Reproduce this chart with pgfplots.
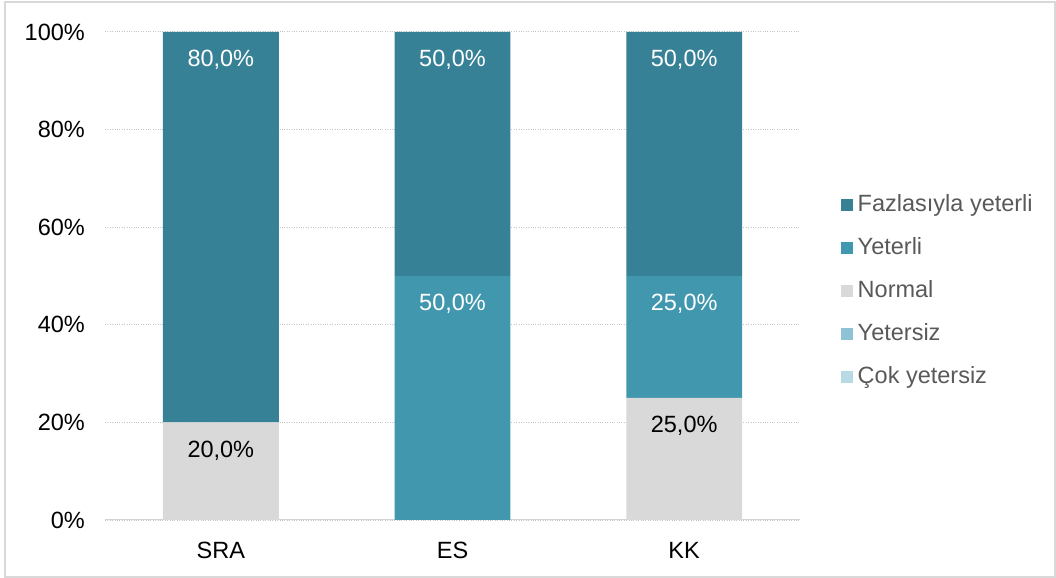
\documentclass[border=0pt]{standalone}
\usepackage{fontspec}
\setmainfont{Liberation Sans}
\usepackage{pgfplots}
\pgfplotsset{compat=1.18}

\definecolor{fazla}{RGB}{55,129,150}
\definecolor{yeterli}{RGB}{65,151,174}
\definecolor{normal}{RGB}{217,217,217}
\definecolor{yetersiz}{RGB}{141,195,212}
\definecolor{cok}{RGB}{185,217,229}
\definecolor{legtext}{RGB}{89,89,89}

\pgfplotsset{
    seg/.style={
        fill=#1, draw=none,
        legend image code/.code={\fill[fill=#1] (0bp,-6bp) rectangle (12bp,6bp);},
    },
}

\begin{document}
\begin{tikzpicture}
    \useasboundingbox (0bp,0bp) rectangle (1056bp,578bp);
    \draw[gray!30, line width=1.5bp] (5bp,1bp) rectangle (1055bp,576bp);
    \begin{axis}[
            at={(105bp,58bp)}, anchor=south west,
            scale only axis,
            width=695bp, height=488bp,
            ybar stacked,
            bar width=0.5,
            xmin=-0.5, xmax=2.5,
            ymin=0, ymax=100,
            xtick={0,1,2},
            xticklabels={SRA, ES, KK},
            ytick={0,20,40,60,80,100},
            yticklabels={0\%, 20\%, 40\%, 60\%, 80\%, 100\%},
            ymajorgrids=true,
            major grid style={gray!45, dotted, line width=1bp},
            axis line style={draw=none},
            tick style={draw=none},
            font=\fontsize{23.5bp}{27bp}\selectfont,
            xticklabel style={anchor=base, inner sep=0pt, yshift=-38bp},
            yticklabel style={anchor=east, inner sep=0pt, xshift=-20bp},
            nodes near coords,
            point meta=explicit symbolic,
            visualization depends on=rawy \as \segval,
            % labels sit just under the top of each segment
            every node near coord/.append style={anchor=center, inner sep=0pt,
                    yshift=\segval*2.44bp-28bp},
            reverse legend,
            legend cell align=left,
            legend style={
                    at={(1.054,0.469)}, anchor=west,
                    draw=none, fill=none,
                    text=legtext,
                    row sep=23bp,
                    column sep=5bp,
                    nodes={inner sep=0pt, text height=16bp, text depth=4bp},
                },
        ]

        \addplot[seg=cok] coordinates {(0,0) [] (1,0) [] (2,0) []};
        \addlegendentry{Çok yetersiz}
        \addplot[seg=yetersiz] coordinates {(0,0) [] (1,0) [] (2,0) []};
        \addlegendentry{Yetersiz}
        \addplot[seg=normal, every node near coord/.append style={text=black}]
            coordinates {(0,20) [20,0\%] (1,0) [] (2,25) [25,0\%]};
        \addlegendentry{Normal}
        \addplot[seg=yeterli, every node near coord/.append style={text=white}]
            coordinates {(0,0) [] (1,50) [50,0\%] (2,25) [25,0\%]};
        \addlegendentry{Yeterli}
        \addplot[seg=fazla, every node near coord/.append style={text=white}]
            coordinates {(0,80) [80,0\%] (1,50) [50,0\%] (2,50) [50,0\%]};
        \addlegendentry{Fazlasıyla yeterli}

        \draw[gray!35, line width=1.5bp] (axis description cs:0,0) -- (axis description cs:1,0);
    \end{axis}
\end{tikzpicture}
\end{document}
